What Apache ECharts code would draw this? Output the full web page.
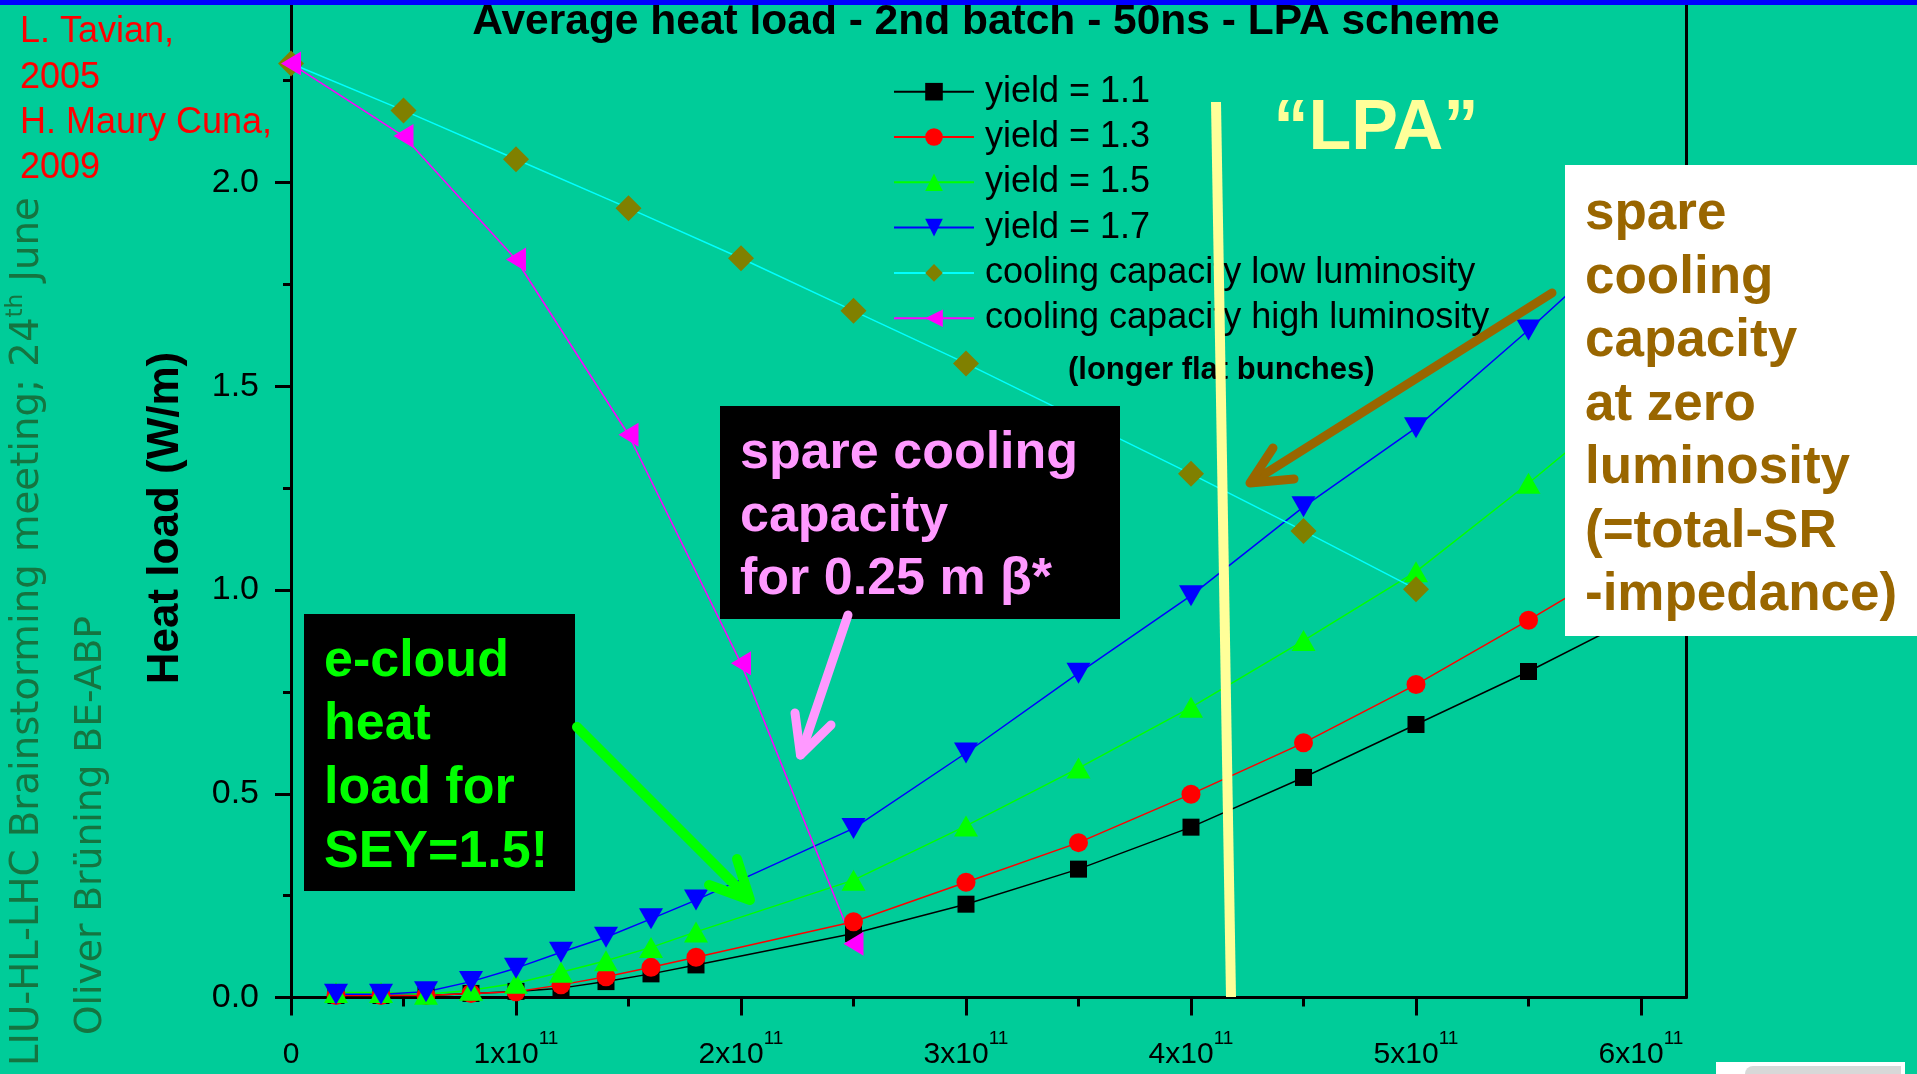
<!DOCTYPE html>
<html><head><meta charset="utf-8">
<script src="https://cdn.jsdelivr.net/npm/echarts@6/dist/echarts.min.js"></script>
<style>html,body{margin:0;padding:0;background:#00cc99;overflow:hidden}#c{width:1917px;height:1074px}</style>
</head><body><div id="c"></div>
<script>
// ---- data (bunch intensity in units of 1e11, heat load in W/m) ----
const intensity = [0.2,0.4,0.6,0.8,1.0,1.2,1.4,1.6,1.8,2.5,3.0,3.5,4.0,4.5,5.0,5.5,6.0];
const yield11 = [0.005,0.005,0.005,0.010,0.015,0.023,0.039,0.058,0.080,0.157,0.229,0.315,0.418,0.540,0.670,0.800,0.940];
const yield13 = [0.005,0.005,0.005,0.010,0.014,0.031,0.051,0.074,0.099,0.186,0.283,0.380,0.499,0.625,0.768,0.926,1.090];
const yield15 = [0.012,0.012,0.008,0.018,0.035,0.062,0.090,0.123,0.161,0.288,0.421,0.563,0.712,0.876,1.045,1.262,1.490];
const yield17 = [0.008,0.008,0.014,0.039,0.072,0.111,0.148,0.193,0.239,0.415,0.600,0.796,0.986,1.204,1.398,1.638,1.890];
const coolLowX = [0,0.5,1.0,1.5,2.0,2.5,3.0,4.0,4.5,5.0];
const coolLow  = [2.292,2.177,2.057,1.937,1.814,1.685,1.556,1.285,1.145,1.002];
const coolHighX = [0,0.5,1.0,1.5,2.0,2.5];
const coolHigh  = [2.292,2.114,1.811,1.381,0.820,0.132];
const xTicks = [0,1,2,3,4,5,6];
const xMinorTicks = [0.5,1.5,2.5,3.5,4.5,5.5];
const yTicks = [0,0.5,1.0,1.5,2.0];
const yMinorTicks = [0.25,0.75,1.25,1.75,2.25];
const seriesNames = ['yield = 1.1','yield = 1.3','yield = 1.5','yield = 1.7','cooling capacity low luminosity','cooling capacity high luminosity'];

const SANS = '"Liberation Sans", Arial, sans-serif';
const GF = '"DejaVu Sans"';
function measure(txt, font){ const c=document.createElement('canvas').getContext('2d'); c.font=font; return c.measureText(txt).width; }

const chart = echarts.init(document.getElementById('c'), null, {renderer:'canvas', width:1917, height:1074});

function mk(name, xs, ys, lineColor, symbol, size, rotate, symColor){
  return {
    name, type:'line', data: xs.map((x,i)=>[x, ys[i]]),
    symbol, symbolSize:size, symbolRotate:rotate, showAllSymbol:true,
    lineStyle:{color:lineColor, width:1.5},
    itemStyle:{color:symColor, borderWidth:0},
    emphasis:{disabled:true}, animation:false, xAxisIndex:0, yAxisIndex:0
  };
}

// left rotated text sizes
const p1='LIU-HL-LHC Brainstorming meeting; 24', p2='th', p3=' June';
const m1 = measure(p1,'100px '+GF)+measure(p3,'100px '+GF)+0.6*measure(p2,'100px '+GF);
const f1 = 100*869/m1;
const f2 = 100*419/measure('Oliver Brüning BE-ABP','100px '+GF);
const LG = '#157440';

function txt(x,y,text,font,fill,align,extra){
  return Object.assign({type:'text', x, y, z:120,
    style:{text, font, fill, align:align||'left', textAlign:align||'left', verticalAlign:'middle', textVerticalAlign:'middle'}}, extra||{});
}
function pl(points,color,w,z){
  return {type:'polyline', z:z||110, shape:{points}, style:{stroke:color, lineWidth:w, fill:null, lineCap:'round', lineJoin:'round'}};
}

const graphics = [
  // top blue band
  {type:'rect', z:200, shape:{x:0,y:0,width:1917,height:5}, style:{fill:'#0000ff'}},
  // title
  txt(986,22.5,'Average heat load - 2nd batch - 50ns - LPA scheme','bold 42.5px '+SANS,'#000','center'),
  // red authors
  txt(20,32.5,'L. Tavian,','36px '+SANS,'#ff0000'),
  txt(20,78,'2005','36px '+SANS,'#ff0000'),
  txt(20,123.5,'H. Maury Cuna,','36px '+SANS,'#ff0000'),
  txt(20,168.5,'2009','36px '+SANS,'#ff0000'),
  // left rotated footer
  {type:'text', x:28, y:1066, rotation:Math.PI/2, z:120,
    style:{text:'{a|'+p1+'}{s|'+p2+'}{a|'+p3+'}', align:'left', textAlign:'left', verticalAlign:'middle', textVerticalAlign:'middle',
      rich:{a:{fontFamily:GF, fontSize:f1, fill:LG, color:LG, lineHeight:f1*1.2},
            s:{fontFamily:GF, fontSize:f1*0.6, fill:LG, color:LG, lineHeight:f1*0.5, verticalAlign:'top'}}}},
  txt(91,1035,'Oliver Brüning BE-ABP', f2+'px '+GF, LG, 'left', {rotation:Math.PI/2}),
  // y axis name
  txt(166,518,'Heat load (W/m)','bold 44px '+SANS,'#000','center',{rotation:Math.PI/2}),
  // LPA label
  txt(1376,130,'\u201cLPA\u201d','bold 70px '+SANS,'#ffff99','center'),
  // (longer flat bunches)
  txt(1068,370.5,'(longer flat bunches)','bold 31px '+SANS,'#000','left'),
  // yellow vertical line
  {type:'line', z:130, shape:{x1:1216,y1:102,x2:1231,y2:997}, style:{stroke:'#ffff99', lineWidth:10}},
  // pink box
  {type:'rect', z:100, shape:{x:720,y:406,width:400,height:213}, style:{fill:'#000'}},
  txt(740,453.5,'spare cooling','bold 52px '+SANS,'#ff99ff'),
  txt(740,516.5,'capacity','bold 52px '+SANS,'#ff99ff'),
  txt(740,579.5,'for 0.25 m \u03b2*','bold 52px '+SANS,'#ff99ff'),
  pl([[848,615],[800.5,755]],'#ff99ff',9),
  pl([[795,713],[800.5,755],[831,725]],'#ff99ff',9),
  // green box
  {type:'rect', z:100, shape:{x:304,y:614,width:271,height:277}, style:{fill:'#000'}},
  txt(324,661.5,'e-cloud','bold 52px '+SANS,'#00ff00'),
  txt(324,725,'heat','bold 52px '+SANS,'#00ff00'),
  txt(324,788.5,'load for','bold 52px '+SANS,'#00ff00'),
  txt(324,853,'SEY=1.5!','bold 52px '+SANS,'#00ff00'),
  pl([[577,727],[748,898]],'#00ff00',10),
  pl([[737,859],[750,900],[709,885]],'#00ff00',10),
  // brown arrow
  pl([[1552,293],[1252,482]],'#996600',9),
  pl([[1273,448],[1250,483],[1294,479]],'#996600',9),
  // white box right
  {type:'rect', z:140, shape:{x:1565,y:165,width:352,height:471}, style:{fill:'#ffffff'}},
  txt(1585,214.5,'spare','bold 53px '+SANS,'#996600','left',{z:150}),
  txt(1585,278,'cooling','bold 53px '+SANS,'#996600','left',{z:150}),
  txt(1585,341.5,'capacity','bold 53px '+SANS,'#996600','left',{z:150}),
  txt(1585,405,'at zero','bold 53px '+SANS,'#996600','left',{z:150}),
  txt(1585,468.5,'luminosity','bold 53px '+SANS,'#996600','left',{z:150}),
  txt(1585,532,'(=total-SR','bold 53px '+SANS,'#996600','left',{z:150}),
  txt(1585,595.5,'-impedance)','bold 53px '+SANS,'#996600','left',{z:150}),
  // bottom-right logo fragment
  {type:'rect', z:140, shape:{x:1716,y:1062,width:189,height:12}, style:{fill:'#ffffff'}},
  {type:'rect', z:141, shape:{x:1745,y:1066,width:156,height:8,r:[8,0,0,0]}, style:{fill:'#d8d8d8'}}
];

const axisBlack = {color:'#000', width:3};
const option = {
  backgroundColor:'#00cc99',
  animation:false,
  grid:{left:291, right:231, top:5, bottom:76.5, containLabel:false},
  legend:{
    data:seriesNames, orient:'vertical', left:893, top:73.7, padding:0,
    itemWidth:80, itemHeight:22, itemGap:9.3, selectedMode:false, z:5,
    textStyle:{fontFamily:SANS, fontSize:36, color:'#000', lineHeight:36, padding:[0,0,0,6]}
  },
  xAxis:[
    {type:'value', min:0, max:6.2, interval:1, position:'bottom',
     axisLine:{show:true, onZero:false, lineStyle:axisBlack},
     axisTick:{show:true, inside:false, length:18, lineStyle:{color:'#000',width:3}, customValues:xTicks},
     axisLabel:{customValues:xTicks, margin:32,
       formatter: v => v===0 ? '{a|0}' : '{a|'+v+'x10}{s|11}',
       rich:{a:{fontFamily:SANS, fontSize:30, color:'#000', lineHeight:50},
             s:{fontFamily:SANS, fontSize:19, color:'#000', lineHeight:14, verticalAlign:'top'}}},
     splitLine:{show:false}},
    {type:'value', min:0, max:6.2, interval:0.5, position:'bottom',
     axisLine:{show:false, onZero:false},
     axisTick:{show:true, inside:false, length:9, lineStyle:{color:'#000',width:3}, customValues:xMinorTicks},
     axisLabel:{show:false}, splitLine:{show:false}}
  ],
  yAxis:[
    {type:'value', min:0, max:2.4356, interval:0.5, position:'left',
     axisLine:{show:true, onZero:false, lineStyle:axisBlack},
     axisTick:{show:true, inside:false, length:16, lineStyle:{color:'#000',width:3}, customValues:yTicks},
     axisLabel:{customValues:yTicks, margin:32, fontFamily:SANS, fontSize:34, color:'#000', formatter:v=>v.toFixed(1)},
     splitLine:{show:false}},
    {type:'value', min:0, max:2.4356, interval:0.25, position:'left',
     axisLine:{show:false, onZero:false},
     axisTick:{show:true, inside:false, length:8, lineStyle:{color:'#000',width:3}, customValues:yMinorTicks},
     axisLabel:{show:false}, splitLine:{show:false}},
    {type:'value', min:0, max:2.4356, position:'right',
     axisLine:{show:true, onZero:false, lineStyle:axisBlack},
     axisTick:{show:false}, axisLabel:{show:false}, splitLine:{show:false}}
  ],
  series:[
    mk(seriesNames[0], intensity, yield11, '#000000', 'rect', 17, 0, '#000000'),
    mk(seriesNames[1], intensity, yield13, '#ff0000', 'circle', 19, 0, '#ff0000'),
    mk(seriesNames[2], intensity, yield15, '#00ff00', 'triangle', [24,21], 0, '#00ff00'),
    mk(seriesNames[3], intensity, yield17, '#0000ff', 'triangle', [24,21], 180, '#0000ff'),
    mk(seriesNames[4], coolLowX, coolLow, '#00ffff', 'diamond', 26, 0, '#808000'),
    mk(seriesNames[5], coolHighX, coolHigh, '#ff00ff', 'triangle', [24,20], 90, '#ff00ff')
  ],
  graphic:{elements:graphics}
};
chart.setOption(option);
</script>
</body></html>
